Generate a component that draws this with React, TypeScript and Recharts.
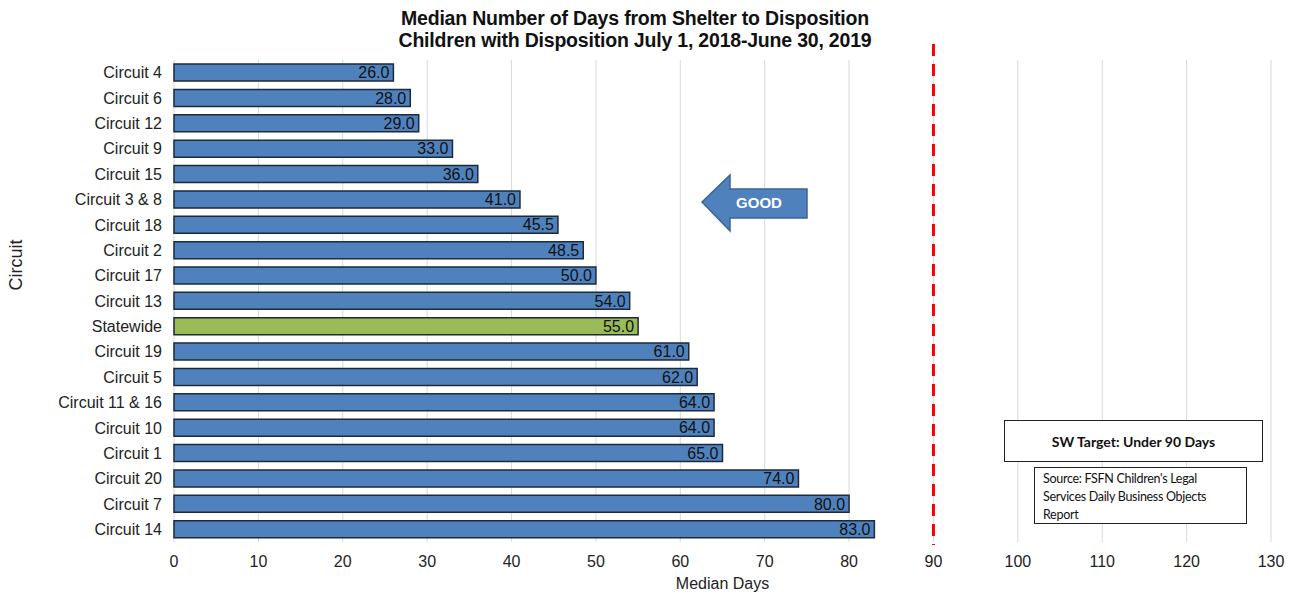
import { BarChart, Bar, XAxis, YAxis, CartesianGrid, Cell, LabelList, ReferenceLine } from 'recharts';

const circuits = [
  'Circuit 4', 'Circuit 6', 'Circuit 12', 'Circuit 9', 'Circuit 15', 'Circuit 3 & 8',
  'Circuit 18', 'Circuit 2', 'Circuit 17', 'Circuit 13', 'Statewide', 'Circuit 19',
  'Circuit 5', 'Circuit 11 & 16', 'Circuit 10', 'Circuit 1', 'Circuit 20', 'Circuit 7', 'Circuit 14',
];
const medianDays = [26, 28, 29, 33, 36, 41, 45.5, 48.5, 50, 54, 55, 61, 62, 64, 64, 65, 74, 80, 83];
const xTicks = [0, 10, 20, 30, 40, 50, 60, 70, 80, 90, 100, 110, 120, 130];
const targetDays = 90;

const data = circuits.map((name, i) => ({ name, days: medianDays[i] }));

const font = '"Liberation Sans", Arial, sans-serif';

export default function App() {
  return (
    <div style={{ position: 'absolute', left: 0, top: 0, width: 1294, height: 594, background: '#fff', fontFamily: font }}>
      <div style={{ position: 'absolute', left: 0, width: 1270, top: 7, textAlign: 'center', fontWeight: 'bold', fontSize: 19.5, lineHeight: '22px', color: '#111', letterSpacing: -0.2 }}>
        Median Number of Days from Shelter to Disposition
        <br />
        Children with Disposition July 1, 2018-June 30, 2019
      </div>
      <BarChart
        width={1294}
        height={594}
        data={data}
        layout="vertical"
        margin={{ top: 60, right: 23, bottom: 22, left: 14 }}
        barCategoryGap="16%"
      >
        <CartesianGrid horizontal={false} stroke="#d9d9d9" />
        <XAxis
          type="number"
          domain={[0, 130]}
          ticks={xTicks}
          axisLine={false}
          tickLine={false}
          tickMargin={8}
          height={30}
          tick={{ fill: '#222', fontSize: 16, fontFamily: font }}
          label={{ value: 'Median Days', position: 'bottom', offset: 6, fill: '#222', fontSize: 16, fontFamily: font }}
        />
        <YAxis
          type="category"
          dataKey="name"
          width={160}
          axisLine={false}
          tickLine={false}
          tickMargin={6}
          interval={0}
          tick={{ fill: '#222', fontSize: 16, fontFamily: font }}
          label={{
            content: () => (
              <text x={22} y={265} transform="rotate(-90, 22, 265)" textAnchor="middle" fontSize={18} fill="#222" fontFamily={font}>
                Circuit
              </text>
            ),
          }}
        />
        <ReferenceLine
          x={targetDays}
          stroke="#ff0000"
          strokeWidth={3}
          strokeDasharray="12 8"
          shape={(p: any) => (
            <line x1={p.x1} x2={p.x2} y1={Math.min(p.y1, p.y2) - 16} y2={Math.max(p.y1, p.y2) + 3} stroke="#ff0000" strokeWidth={3} strokeDasharray="12 8" />
          )}
        />
        <Bar dataKey="days" stroke="#1d2a3a" strokeWidth={1.5} isAnimationActive={false}>
          {data.map((d) => (
            <Cell key={d.name} fill={d.name === 'Statewide' ? '#9bbb59' : '#4f81bd'} />
          ))}
          <LabelList
            dataKey="days"
            position="insideRight"
            offset={4}
            fill="#111"
            fontSize={16}
            fontFamily={font}
            formatter={(v: any) => Number(v).toFixed(1)}
          />
        </Bar>
      </BarChart>
      <svg style={{ position: 'absolute', left: 0, top: 0 }} width={1294} height={594}>
        <polygon points="702,202 730,175 730,189 807,189 807,218 730,218 730,231" fill="#4f81bd" stroke="#3a6494" strokeWidth={1.5} />
        <text x={759} y={208} textAnchor="middle" fill="#fff" fontWeight="bold" fontSize={15} fontFamily={font}>GOOD</text>
      </svg>
      <div style={{ position: 'absolute', left: 1004, top: 420, width: 259, height: 42, boxSizing: 'border-box', border: '1.5px solid #222', background: '#fff', display: 'flex', alignItems: 'center', justifyContent: 'center', fontWeight: 'bold', fontSize: 14, fontFamily: 'Lato, "Open Sans", sans-serif', color: '#111' }}>
        SW Target: Under 90 Days
      </div>
      <div style={{ position: 'absolute', left: 1034, top: 467, width: 213, height: 57, boxSizing: 'border-box', border: '1.5px solid #222', background: '#fff', padding: '2px 8px', fontSize: 12.5, lineHeight: '18px', fontFamily: 'Lato, "Open Sans", sans-serif', color: '#111', letterSpacing: -0.3 }}>
        Source: FSFN Children's Legal Services Daily Business Objects Report
      </div>
    </div>
  );
}
